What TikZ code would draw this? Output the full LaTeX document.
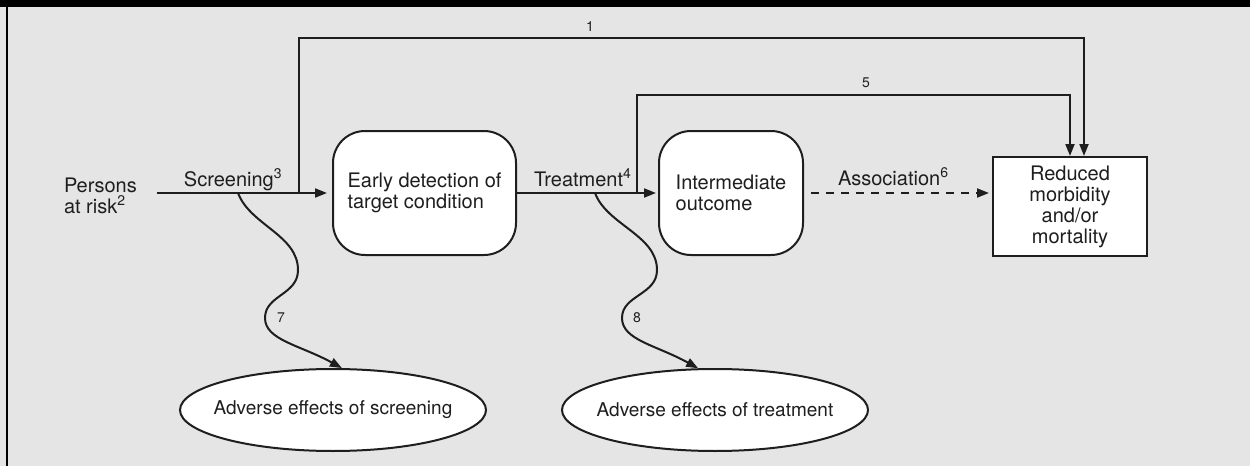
\documentclass[tikz,border=0pt]{standalone}
\usepackage{fontspec}
\setmainfont{TeX Gyre Heros}
\usetikzlibrary{arrows.meta,shapes.geometric}

\definecolor{panel}{HTML}{E5E5E5}
\definecolor{ink}{HTML}{1E1E1E}

\begin{document}
\begin{tikzpicture}[x=0.5pt,y=-0.5pt,
  font=\fontsize{10}{10.5}\selectfont,
  line width=1pt, draw=ink,
  txt/.style={text=ink, inner sep=0pt},
  numlbl/.style={txt, font=\fontsize{7}{8}\selectfont},
  roundbox/.style={draw=ink, fill=white, rounded corners=16pt, minimum height=62pt,
    align=left, inner sep=0pt, text=ink},
  plainbox/.style={draw=ink, fill=white, minimum width=77pt, minimum height=49.5pt,
    align=center, inner sep=0pt, text=ink},
  oval/.style={draw=ink, fill=white, ellipse, minimum width=153pt, minimum height=41pt,
    inner sep=0pt, text=ink, font=\fontsize{9.5}{10}\selectfont},
  arr/.style={-{Triangle[length=6pt,width=4.5pt]}}]

% Frame
\useasboundingbox (0,0) rectangle (1250,466);
\fill[panel] (0,0) rectangle (1250,466);
\fill[black] (0,0) rectangle (1250,7);
\draw[black] (6.5,7) -- (6.5,466);

% Boxes
\node[txt, align=left, anchor=north west] (persons) at (63,176.5) {Persons\\at risk\textsuperscript{2}};
\node[roundbox, minimum width=91.5pt] (detect) at (424.5,193) {Early detection of\\target condition};
\node[roundbox, minimum width=72pt] (inter) at (731,193) {Intermediate\\outcome};
\node[plainbox] (outcome) at (1070,206.5) {Reduced\\morbidity\\and/or\\mortality};
\node[oval] (advscr) at (333,410) {\makebox[0pt]{Adverse effects of screening}};
\node[oval] (advtrt) at (715,410) {\makebox[0pt]{Adverse effects of treatment}};

% Branch points
\coordinate (b1) at (299,193);
\coordinate (b5) at (637,193);
\coordinate (w7) at (238,193);
\coordinate (w8) at (595,193);
\coordinate (t1) at (299,38);
\coordinate (t5) at (637,95);

% Main chain
\draw[arr, shorten >=2.5pt] ([xshift=9.5pt]persons.east |- detect.west) -- (detect.west);
\draw[arr, shorten >=1pt] (detect.east) -- (inter.west);
\draw[arr, dashed, dash pattern=on 4pt off 3.5pt, shorten <=3.5pt, shorten >=1.5pt] (inter.east) -- (outcome.west |- inter.east);

% Direct paths
\draw[arr] (b1) -- (t1) -| ([xshift=7pt]outcome.north);
\draw[arr] (b5) -- (t5) -| (outcome.north);

% Harms
\draw[arr] (w7) .. controls (250,225) and (298,235) .. (298,270)
  .. controls (298,295) and (265,295) .. (265,318)
  .. controls (265,340) and (300,345) .. (advscr.78);
\draw[arr] (w8) .. controls (607,225) and (657,235) .. (657,270)
  .. controls (657,295) and (622,295) .. (622,318)
  .. controls (622,340) and (656,345) .. (advtrt.112);

% Labels
\node[txt, anchor=base west] (scr) at (183,186) {Screening\textsuperscript{3}};
\node[txt, anchor=base west] (trt) at (533,186) {Treatment\textsuperscript{4}};
\node[txt, anchor=base west] (assoc) at (837,185) {Association\textsuperscript{6}};
\node[numlbl] (lab1) at (590,27) {1};
\node[numlbl] (lab5) at (866,83) {5};
\node[numlbl] (lab7) at (281,318) {7};
\node[numlbl] (lab8) at (637,318) {8};

\end{tikzpicture}
\end{document}
